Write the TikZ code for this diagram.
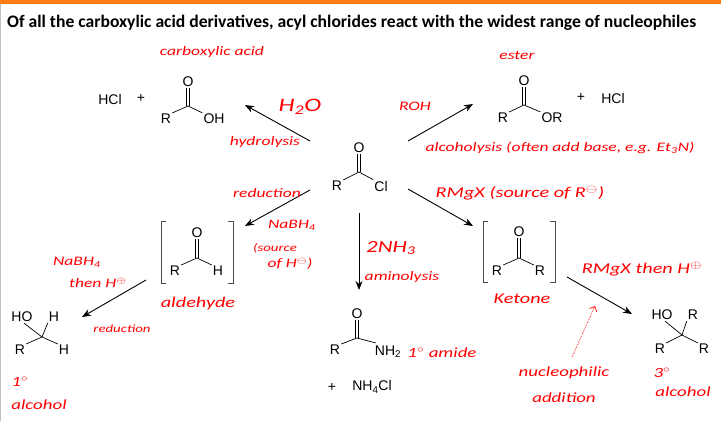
\documentclass[tikz,border=0pt]{standalone}
\usepackage{fontspec}
\setmainfont{Liberation Sans}
\newfontfamily\titlefont{Carlito}
\usetikzlibrary{arrows.meta}
\newcommand{\hw}[1]{\scalebox{1.35}[1]{#1}}
\begin{document}
\begin{tikzpicture}[x=1pt,y=-1pt,
  chem/.style={font=\fontsize{14}{15}\selectfont, inner sep=1pt},
  hand/.style={text=red, font=\titlefont\itshape\fontsize{13}{14}\selectfont, inner sep=1pt, align=left},
  bond/.style={line width=0.7pt},
  rx/.style={-{Stealth[length=9pt,width=7pt]}, line width=0.9pt},
  brk/.style={line width=0.9pt, draw=black!70}]
\useasboundingbox (0,0) rectangle (721,421);
\fill[white] (0,0) rectangle (721,421);
\fill[orange!85!red!90!white] (0,0) rectangle (721,4);
\draw[black!25] (0.5,4) -- (0.5,421);
\node[anchor=west, font=\titlefont\bfseries\fontsize{17.6}{19}\selectfont, inner sep=0] (title) at (7,23) {Of all the carboxylic acid derivatives, acyl chlorides react with the widest range of nucleophiles};

% acid
\node[chem] (hcl1) at (110,99) {HCl};
\node[chem] (p1) at (141,98) {+};
\node[chem] (aO) at (188,82) {O};
\node[chem] (aR) at (166,119) {R};
\node[chem] (aOH) at (214,119) {OH};
\coordinate (aC) at (188,106);
\draw[bond] (aR.north east) -- (aC) -- (aOH.north west);
\draw[bond] ([xshift=-1.5]aC) -- ([xshift=-1.5]aO.south);
\draw[bond] ([xshift=1.5]aC) -- ([xshift=1.5]aO.south);

% ester
\node[chem] (eO) at (524,81) {O};
\node[chem] (eR) at (503,118) {R};
\node[chem] (eOR) at (552,118) {OR};
\coordinate (eC) at (524,105);
\draw[bond] (eR.north east) -- (eC) -- (eOR.north west);
\draw[bond] ([xshift=-1.5]eC) -- ([xshift=-1.5]eO.south);
\draw[bond] ([xshift=1.5]eC) -- ([xshift=1.5]eO.south);
\node[chem] (p2) at (581,97) {+};
\node[chem] (hcl2) at (613,98) {HCl};

% acyl chloride
\node[chem] (cO) at (359,148) {O};
\node[chem] (cR) at (337,186) {R};
\node[chem] (cCl) at (381,186) {Cl};
\coordinate (cC) at (359,172);
\draw[bond] (cR.north east) -- (cC) -- (cCl.north west);
\draw[bond] ([xshift=-1.5]cC) -- ([xshift=-1.5]cO.south);
\draw[bond] ([xshift=1.5]cC) -- ([xshift=1.5]cO.south);

% aldehyde
\node[chem] (dO) at (197,233) {O};
\node[chem] (dR) at (175,271) {R};
\node[chem] (dH) at (218,271) {H};
\coordinate (dC) at (197,258);
\draw[bond] (dR.north east) -- (dC) -- (dH.north west);
\draw[bond] ([xshift=-1.5]dC) -- ([xshift=-1.5]dO.south);
\draw[bond] ([xshift=1.5]dC) -- ([xshift=1.5]dO.south);
\draw[brk] (166,221) -- (161,221) -- (161,283) -- (166,283);
\draw[brk] (228,221) -- (233,221) -- (233,283) -- (228,283);

% ketone
\node[chem] (kO) at (519,232) {O};
\node[chem] (kR1) at (497,271) {R};
\node[chem] (kR2) at (540,271) {R};
\coordinate (kC) at (519,258);
\draw[bond] (kR1.north east) -- (kC) -- (kR2.north west);
\draw[bond] ([xshift=-1.5]kC) -- ([xshift=-1.5]kO.south);
\draw[bond] ([xshift=1.5]kC) -- ([xshift=1.5]kO.south);
\draw[brk] (488,221) -- (483,221) -- (483,282) -- (488,282);
\draw[brk] (550,221) -- (555,221) -- (555,282) -- (550,282);

% primary alcohol
\node[chem] (pHO) at (22,317) {HO};
\node[chem] (pH1) at (54,317) {H};
\node[chem] (pR) at (20,350) {R};
\node[chem] (pH2) at (64,350) {H};
\coordinate (pC) at (42,337);
\draw[bond] (pR.north east) -- (pC) -- (pH2.north west);
\draw[bond] (pC) -- ([xshift=2]pHO.south);
\draw[bond] (pC) -- (pH1.south west);

% amide
\node[chem] (mO) at (357,314) {O};
\node[chem] (mR) at (335,350) {R};
\node[chem] (mN) at (388,352) {NH\textsubscript{2}};
\coordinate (mC) at (357,338);
\draw[bond] (mR.north east) -- (mC) -- ([xshift=2,yshift=2]mN.north west);
\draw[bond] ([xshift=-1.5]mC) -- ([xshift=-1.5]mO.south);
\draw[bond] ([xshift=1.5]mC) -- ([xshift=1.5]mO.south);
\node[chem] (p3) at (332,387) {+};
\node[chem] (nh4) at (372,387) {NH\textsubscript{4}Cl};

% tertiary alcohol
\node[chem] (tHO) at (662,315) {HO};
\node[chem] (tR1) at (693,315) {R};
\node[chem] (tR2) at (660,349) {R};
\node[chem] (tR3) at (704,349) {R};
\coordinate (tC) at (682,335);
\draw[bond] (tR2.north east) -- (tC) -- (tR3.north west);
\draw[bond] (tC) -- ([xshift=3]tHO.south);
\draw[bond] (tC) -- (tR1.south west);

% reaction arrows
\coordinate (a1s) at (310,141); \coordinate (a1e) at (245,105);
\coordinate (a2s) at (408,141); \coordinate (a2e) at (473,104);
\coordinate (a3s) at (310,190); \coordinate (a3e) at (245,226);
\coordinate (a4s) at (359,213); \coordinate (a4e) at (359,290);
\coordinate (a5s) at (408,189); \coordinate (a5e) at (473,226);
\coordinate (a6s) at (146,280); \coordinate (a6e) at (82,317);
\coordinate (a7s) at (567,277); \coordinate (a7e) at (632,314);
\draw[rx] (a1s) -- (a1e);
\draw[rx] (a2s) -- (a2e);
\draw[rx] (a3s) -- (a3e);
\draw[rx] (a4s) -- (a4e);
\draw[rx] (a5s) -- (a5e);
\draw[rx] (a6s) -- (a6e);
\draw[rx] (a7s) -- (a7e);
\coordinate (dts) at (572,357); \coordinate (dte) at (595,306);
\draw[red, densely dotted, line width=0.7pt, -{Straight Barb[length=4pt]}] (dts) -- (dte);

% red labels
\node[hand] (l1) at (212,52) {\hw{carboxylic acid}};
\node[hand] (l2) at (517,55) {\hw{ester}};
\node[hand, font=\titlefont\itshape\fontsize{19}{20}\selectfont] (l3) at (300,107) {\hw{H\textsubscript{2}O}};
\node[hand] (l4) at (415,106) {\hw{ROH}};
\node[hand] (l5) at (265,142) {\hw{hydrolysis}};
\node[hand] (l6) at (560,148) {\hw{alcoholysis (often add base, e.g. Et\textsubscript{3}N)}};
\node[hand] (l7) at (267,193) {\hw{reduction}};
\node[hand, font=\titlefont\itshape\fontsize{15}{16}\selectfont] (l8) at (520,193) {\hw{RMgX (source of R$^{\ominus}$)}};
\node[hand] (l9) at (292,225) {\hw{NaBH\textsubscript{4}}};
\node[hand, font=\titlefont\itshape\fontsize{11}{12}\selectfont] (l10) at (275,248) {\hw{(source}};
\node[hand] (l10b) at (290,264) {\hw{of H$^{\ominus}$)}};
\node[hand, font=\titlefont\itshape\fontsize{17}{18}\selectfont] (l11) at (391,248) {\hw{2NH\textsubscript{3}}};
\node[hand] (l12) at (402,277) {\hw{aminolysis}};
\node[hand] (l13) at (77,262) {\hw{NaBH\textsubscript{4}}};
\node[hand] (l13b) at (98,283) {\hw{then H$^{\oplus}$}};
\node[hand, font=\titlefont\itshape\fontsize{11}{12}\selectfont] (l14) at (122,329) {\hw{reduction}};
\node[hand, font=\titlefont\itshape\fontsize{15}{16}\selectfont] (l15) at (198,303) {\hw{aldehyde}};
\node[hand, font=\titlefont\itshape\fontsize{15}{16}\selectfont] (l16) at (522,299) {\hw{Ketone}};
\node[hand, font=\titlefont\itshape\fontsize{15}{16}\selectfont] (l17) at (642,269) {\hw{RMgX then H$^{\oplus}$}};
\node[hand, font=\titlefont\itshape\fontsize{14}{15}\selectfont] (l18) at (442,353) {\hw{1$^\circ$ amide}};
\node[hand, font=\titlefont\itshape\fontsize{14}{15}\selectfont] (l19) at (20,382) {\hw{1$^\circ$}};
\node[hand, font=\titlefont\itshape\fontsize{14}{15}\selectfont] (l19b) at (39,405) {\hw{alcohol}};
\node[hand, font=\titlefont\itshape\fontsize{14}{15}\selectfont] (l20) at (564,373) {\hw{nucleophilic}};
\node[hand, font=\titlefont\itshape\fontsize{14}{15}\selectfont] (l20b) at (564,398) {\hw{addition}};
\node[hand, font=\titlefont\itshape\fontsize{14}{15}\selectfont] (l21) at (662,373) {\hw{3$^\circ$}};
\node[hand, font=\titlefont\itshape\fontsize{14}{15}\selectfont] (l21b) at (683,392) {\hw{alcohol}};
\end{tikzpicture}
\end{document}
